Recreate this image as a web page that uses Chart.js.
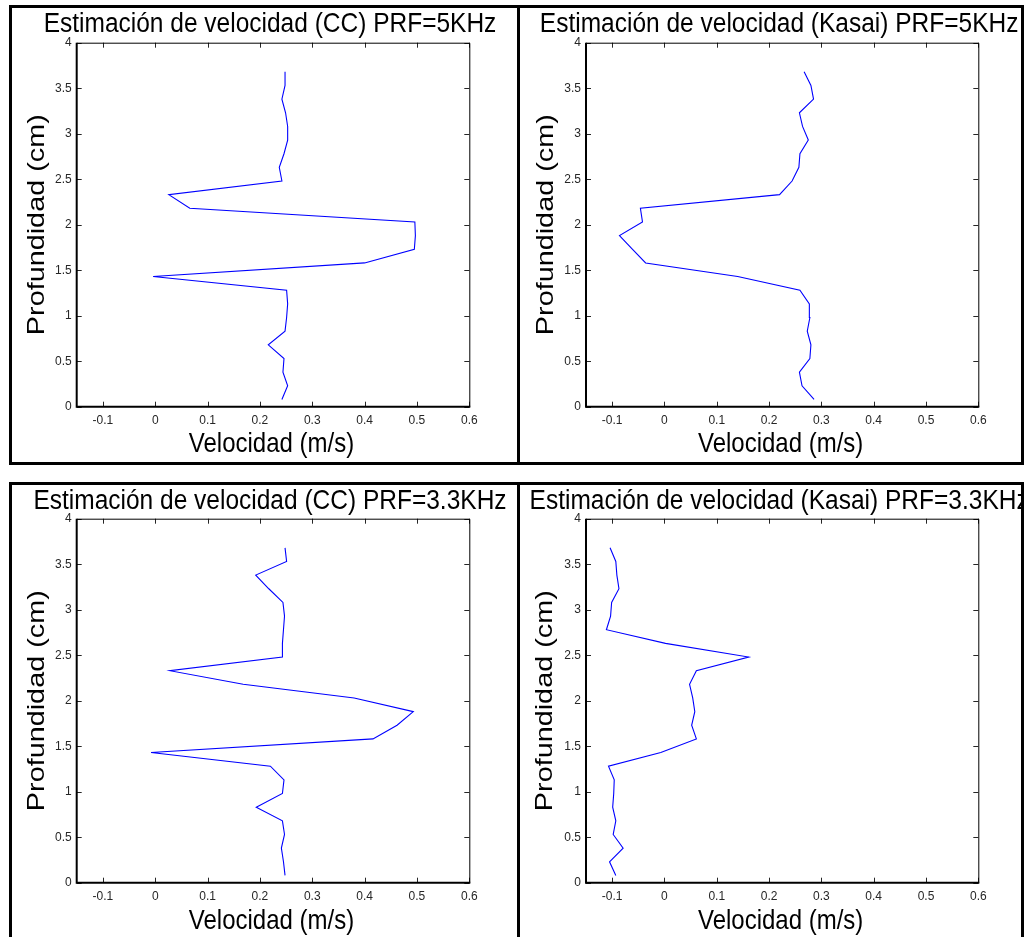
<!DOCTYPE html>
<html>
<head>
<meta charset="utf-8">
<title>Estimación de velocidad</title>
<script src="https://cdn.jsdelivr.net/npm/chart.js@4.4.0/dist/chart.umd.min.js"></script>
<style>
  html, body { margin: 0; padding: 0; background: #fff; }
  body { width: 1031px; height: 937px; position: relative; overflow: hidden; }
  canvas { position: absolute; }
  .box { position: absolute; box-sizing: border-box; border: 3px solid #000; z-index: 2; pointer-events: none; }
</style>
</head>
<body>
<canvas id="c1" width="505" height="454" style="left:12px;top:8px"></canvas>
<canvas id="c2" width="504" height="454" style="left:520px;top:8px"></canvas>
<canvas id="c3" width="505" height="452" style="left:12px;top:485px"></canvas>
<canvas id="c4" width="504" height="452" style="left:520px;top:485px"></canvas>
<div class="box" style="left:9px;top:5px;width:511px;height:460px"></div>
<div class="box" style="left:517px;top:5px;width:507px;height:460px"></div>
<div class="box" style="left:9px;top:482px;width:511px;height:470px"></div>
<div class="box" style="left:517px;top:482px;width:507px;height:470px"></div>
<script>
// depth samples (cm), shared by all four panels
const depth = [0.08, 0.23, 0.38, 0.53, 0.68, 0.83, 0.98, 1.13, 1.28, 1.43, 1.58, 1.73, 1.88,
               2.03, 2.18, 2.33, 2.48, 2.63, 2.78, 2.93, 3.08, 3.23, 3.38, 3.53, 3.68];

// velocity estimates (m/s), one per depth sample
const ccPrf5 = [0.242, 0.253, 0.244, 0.246, 0.216, 0.248, 0.251, 0.253, 0.251, -0.004, 0.400, 0.495, 0.497,
                0.496, 0.066, 0.026, 0.242, 0.237, 0.246, 0.253, 0.253, 0.249, 0.242, 0.248, 0.248];
const kasaiPrf5 = [0.286, 0.263, 0.258, 0.278, 0.280, 0.273, 0.278, 0.277, 0.259, 0.140, -0.036, -0.061, -0.086,
                   -0.042, -0.046, 0.220, 0.244, 0.257, 0.259, 0.275, 0.264, 0.258, 0.285, 0.280, 0.267];
const ccPrf33 = [0.248, 0.245, 0.241, 0.247, 0.243, 0.193, 0.243, 0.246, 0.220, -0.008, 0.416, 0.462, 0.493,
                 0.380, 0.168, 0.028, 0.243, 0.243, 0.245, 0.247, 0.244, 0.217, 0.192, 0.251, 0.248];
const kasaiPrf33 = [-0.093, -0.105, -0.079, -0.098, -0.093, -0.099, -0.097, -0.096, -0.107, -0.007, 0.061, 0.052, 0.058,
                    0.054, 0.048, 0.061, 0.161, 0.002, -0.111, -0.103, -0.101, -0.087, -0.091, -0.093, -0.104];

const xTicks = [-0.1, 0, 0.1, 0.2, 0.3, 0.4, 0.5, 0.6];
const yTicks = [0, 0.5, 1, 1.5, 2, 2.5, 3, 3.5, 4];

const titles = [
  'Estimación de velocidad (CC) PRF=5KHz',
  'Estimación de velocidad (Kasai) PRF=5KHz',
  'Estimación de velocidad (CC) PRF=3.3KHz',
  'Estimación de velocidad (Kasai) PRF=3.3KHz'
];
const xLabel = 'Velocidad (m/s)';
const yLabel = 'Profundidad (cm)';

const FONT = '"Liberation Sans", Arial, Helvetica, sans-serif';

// the source figure is a bit taller than wide, so its text looks stretched
function stretchedText(ctx, text, x, y, rot, sx, sy) {
  ctx.save();
  ctx.translate(x, y);
  ctx.rotate(rot);
  ctx.scale(sx, sy);
  ctx.fillText(text, 0, 0);
  ctx.restore();
}

// MATLAB style box: inward ticks on all four sides, title and axis labels
const matlabBox = {
  id: 'matlabBox',
  afterDraw(chart, args, opts) {
    const { ctx, chartArea: a, scales: { x, y } } = chart;
    ctx.save();
    ctx.strokeStyle = '#262626';
    ctx.lineWidth = 1;
    ctx.beginPath();
    x.ticks.forEach(t => {
      const px = Math.round(x.getPixelForValue(t.value)) + 0.5;
      ctx.moveTo(px, a.bottom); ctx.lineTo(px, a.bottom - 5);
      ctx.moveTo(px, a.top); ctx.lineTo(px, a.top + 5);
    });
    y.ticks.forEach(t => {
      const py = Math.round(y.getPixelForValue(t.value)) + 0.5;
      ctx.moveTo(a.left, py); ctx.lineTo(a.left + 5, py);
      ctx.moveTo(a.right, py); ctx.lineTo(a.right - 5, py);
    });
    ctx.stroke();

    ctx.strokeStyle = '#000';
    ctx.lineWidth = 1;
    ctx.beginPath();
    ctx.moveTo(a.left, a.top + 0.5); ctx.lineTo(a.right + 0.5, a.top + 0.5); ctx.lineTo(a.right + 0.5, a.bottom);
    ctx.stroke();
    ctx.lineWidth = 2;
    ctx.beginPath();
    ctx.moveTo(a.left, a.top); ctx.lineTo(a.left, a.bottom); ctx.lineTo(a.right + 1, a.bottom);
    ctx.stroke();

    const cx = (a.left + a.right) / 2;
    ctx.fillStyle = '#000';
    ctx.textAlign = 'center';
    ctx.textBaseline = 'middle';
    ctx.font = '24.5px ' + FONT;
    stretchedText(ctx, opts.text, cx - 3, opts.titleY, 0, 1, 1.1);
    ctx.font = '24px ' + FONT;
    stretchedText(ctx, xLabel, cx - 1.5, opts.xLabelY, 0, 1, 1.12);
    stretchedText(ctx, yLabel, opts.yLabelX, (a.top + a.bottom) / 2, -Math.PI / 2, 1.2, 1);
    ctx.restore();
  }
};

function makePanel(id, title, values, lay) {
  const ctx = document.getElementById(id).getContext('2d');
  return new Chart(ctx, {
    type: 'scatter',
    data: {
      datasets: [{
        data: depth.map((d, i) => ({ x: values[i], y: d })),
        showLine: true,
        borderColor: '#0000ff',
        borderWidth: 1.1,
        pointRadius: 0,
        tension: 0
      }]
    },
    options: {
      responsive: false,
      animation: false,
      events: [],
      layout: { padding: { top: lay.top, right: lay.right, left: 0, bottom: 0 } },
      plugins: {
        legend: { display: false },
        tooltip: { enabled: false },
        matlabBox: { text: title, titleY: 17, xLabelY: 437, yLabelX: lay.yLabelX }
      },
      scales: {
        x: {
          type: 'linear',
          min: -0.15,
          max: 0.6,
          grid: { display: false, drawTicks: false },
          border: { display: false },
          afterBuildTicks: s => { s.ticks = xTicks.map(v => ({ value: v })); },
          afterFit: s => { s.height = lay.xH; },
          ticks: {
            padding: 7,
            color: '#262626',
            font: { family: FONT, size: 12 },
            callback: v => String(v)
          }
        },
        y: {
          type: 'linear',
          min: 0,
          max: 4,
          grid: { display: false, drawTicks: false },
          border: { display: false },
          afterBuildTicks: s => { s.ticks = yTicks.map(v => ({ value: v })); },
          afterFit: s => { s.width = lay.yW; },
          ticks: {
            padding: 5,
            color: '#262626',
            font: { family: FONT, size: 12 },
            callback: v => String(v)
          }
        }
      }
    },
    plugins: [matlabBox]
  });
}

makePanel('c1', titles[0], ccPrf5, { top: 34.7, right: 47.7, yW: 64.7, xH: 55.3, yLabelX: 25.5 });
makePanel('c2', titles[1], kasaiPrf5, { top: 34.7, right: 45.7, yW: 66, xH: 55.3, yLabelX: 26 });
makePanel('c3', titles[2], ccPrf33, { top: 33.7, right: 47.7, yW: 64.7, xH: 54.3, yLabelX: 25.5 });
makePanel('c4', titles[3], kasaiPrf33, { top: 33.7, right: 45.7, yW: 66, xH: 54.3, yLabelX: 25.7 });
</script>
</body>
</html>
